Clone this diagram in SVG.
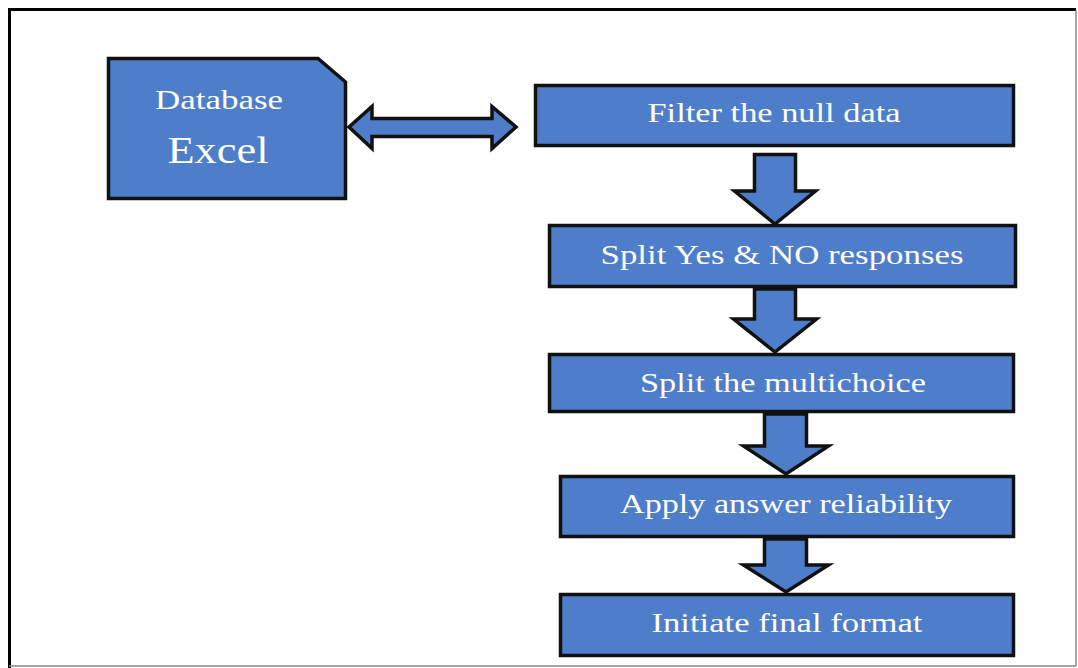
<svg xmlns="http://www.w3.org/2000/svg" width="1078" height="668" viewBox="0 0 1078 668">
<style>
.shape{fill:#4e7dc9;stroke:#111;stroke-width:3.5;stroke-linejoin:miter}
.lbl{font-family:"Liberation Serif","Times New Roman",serif;fill:#fff;text-anchor:middle}
</style>
<rect width="1078" height="668" fill="#fff"/>
<g id="frame">
<line x1="9" y1="9.5" x2="1076" y2="9.5" stroke="#000" stroke-width="3"/>
<line x1="9.5" y1="8" x2="9.5" y2="668" stroke="#000" stroke-width="3"/>
<line x1="1076" y1="10" x2="1076" y2="666" stroke="#888" stroke-width="1.5"/>
<line x1="9" y1="666" x2="1076" y2="666" stroke="#888" stroke-width="1.5"/>
</g>
<g id="database">
<path class="shape" d="M108.5,58.5 H318 L345.5,82 V198.5 H108.5 Z"/>
<text class="lbl" x="219" y="109" font-size="28" textLength="128" lengthAdjust="spacingAndGlyphs">Database</text>
<text class="lbl" x="218" y="163" font-size="38" textLength="101" lengthAdjust="spacingAndGlyphs">Excel</text>
</g>
<g id="connectors">
<polygon class="shape" points="349,127 372,106.5 372,118.5 492,118.5 492,106.5 516,127 492,148.5 492,136.5 372,136.5 372,148.5"/>
<polygon class="shape" points="754.5,154.5 795.5,154.5 795.5,191 815.5,191 775,224 734.5,191 754.5,191"/>
<polygon class="shape" points="754.5,289 795.5,289 795.5,319 816.5,319 775,352 733.5,319 754.5,319"/>
<polygon class="shape" points="764.5,414 806.5,414 806.5,446 828.5,446 786,474 743.5,446 764.5,446"/>
<polygon class="shape" points="764.5,539 806.5,539 806.5,565 828.5,565 786,592 743.5,565 764.5,565"/>
</g>
<g id="n1">
<rect class="shape" x="535.5" y="85.5" width="478" height="60"/>
<text class="lbl" x="774" y="122" font-size="28" textLength="253" lengthAdjust="spacingAndGlyphs">Filter the null data</text>
</g>
<g id="n2">
<rect class="shape" x="549.5" y="225.5" width="466" height="61"/>
<text class="lbl" x="782" y="264" font-size="28" textLength="363" lengthAdjust="spacingAndGlyphs">Split Yes &amp; NO responses</text>
</g>
<g id="n3">
<rect class="shape" x="549.5" y="354.5" width="464" height="57"/>
<text class="lbl" x="783" y="392" font-size="28" textLength="286" lengthAdjust="spacingAndGlyphs">Split the multichoice</text>
</g>
<g id="n4">
<rect class="shape" x="560.5" y="476.5" width="453" height="60"/>
<text class="lbl" x="786" y="513" font-size="28" textLength="332" lengthAdjust="spacingAndGlyphs">Apply answer reliability</text>
</g>
<g id="n5">
<rect class="shape" x="560.5" y="594.5" width="453" height="61"/>
<text class="lbl" x="787" y="632" font-size="28" textLength="271" lengthAdjust="spacingAndGlyphs">Initiate final format</text>
</g>
</svg>
